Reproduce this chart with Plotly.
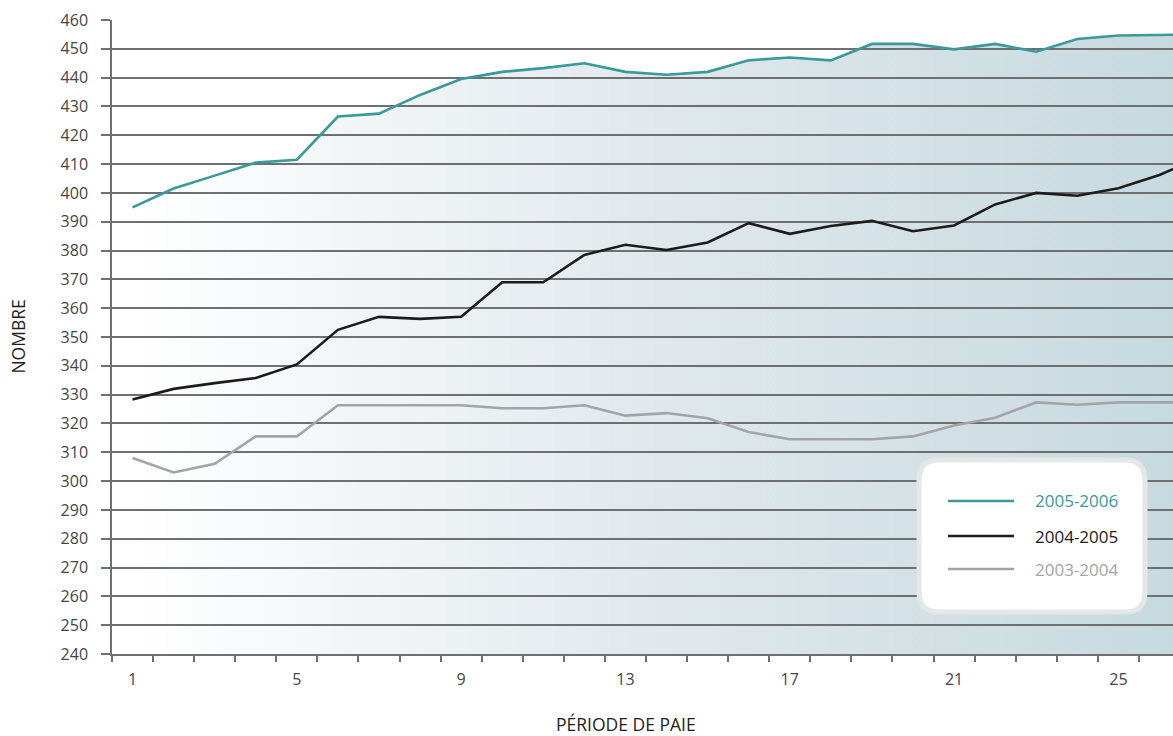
import plotly.graph_objects as go

periods = list(range(1, 28))
serie_2005_2006 = [395, 401.5, 406, 410.5, 411.5, 426.5, 427.5, 434, 439.5, 442, 443.3, 445,
                   442, 441, 442, 446, 447, 446, 451.7, 451.7, 449.8, 451.7, 449, 453.4,
                   454.6, 454.8, 455]
serie_2004_2005 = [328.3, 332, 334, 335.8, 340.5, 352.5, 357, 356.3, 357, 369, 369, 378.5,
                   382, 380.2, 382.8, 389.5, 385.8, 388.5, 390.3, 386.7, 388.7, 396, 400,
                   399, 401.6, 406.2, 412.5]
serie_2003_2004 = [308, 303, 306, 315.5, 315.5, 326.3, 326.3, 326.3, 326.3, 325.3, 325.3, 326.3,
                   322.7, 323.6, 321.8, 317, 314.5, 314.5, 314.5, 315.5, 319.3, 322, 327.3,
                   326.5, 327.3, 327.3, 327.3]
series_names = ["2005-2006", "2004-2005", "2003-2004"]
series_colors = ["#3a9999", "#1c1a1b", "#a3a4a6"]
y_ticks = list(range(240, 461, 10))
x_tick_labels = [1, 5, 9, 13, 17, 21, 25]
x_minor_ticks = [p + 0.5 for p in range(0, 26)]

FONT = "Open Sans"
TXT = "#454547"
GRID = "#6e6f71"

fig = go.Figure()

# gradient fill below the top series (on its own subplot so gridlines sit above)
fig.add_trace(go.Scatter(
    x=periods, y=serie_2005_2006, mode="lines", line=dict(width=0),
    fill="tozeroy",
    fillgradient=dict(type="horizontal",
                      colorscale=[[0, "#ffffff"], [0.5, "#e0e8ec"], [1, "#c5d9df"]]),
    xaxis="x", yaxis="y", hoverinfo="skip", showlegend=False))

all_series = [serie_2005_2006, serie_2004_2005, serie_2003_2004]
for name, vals, col in zip(series_names, all_series, series_colors):
    fig.add_trace(go.Scatter(x=periods, y=vals, mode="lines", name=name,
                             line=dict(color=col, width=2.6),
                             xaxis="x2", yaxis="y2", showlegend=False))

xr = [0.5, 26.33]
yr = [240, 460]

fig.update_layout(
    width=1173, height=736,
    margin=dict(l=112, r=0, t=20, b=82),
    paper_bgcolor="white", plot_bgcolor="rgba(0,0,0,0)",
    font=dict(family=FONT, size=16, color=TXT),
    xaxis=dict(range=xr, domain=[0, 1], visible=False, fixedrange=True),
    yaxis=dict(range=yr, domain=[0, 1], visible=False, fixedrange=True),
    xaxis2=dict(range=xr, domain=[0, 1], anchor="y2",
                tickmode="array", tickvals=x_tick_labels,
                ticktext=[str(v) for v in x_tick_labels],
                ticks="", showgrid=False, zeroline=False,
                showline=True, linecolor=GRID, linewidth=1.5,
                ticklabelstandoff=10,
                minor=dict(tickmode="array", tickvals=x_minor_ticks, ticks="outside",
                           ticklen=6, tickcolor=GRID, tickwidth=1.5, showgrid=False),
                tickfont=dict(size=16, color=TXT)),
    yaxis2=dict(range=yr, domain=[0, 1], anchor="x2",
                tickmode="array", tickvals=y_ticks,
                ticks="outside", ticklen=9, tickcolor=GRID, tickwidth=1.5,
                showgrid=True, gridcolor=GRID, gridwidth=1.5, zeroline=False,
                showline=True, linecolor=GRID, linewidth=1.5,
                ticklabelstandoff=10,
                tickfont=dict(size=16, color=TXT)),
    showlegend=False,
)

# axis titles
fig.add_annotation(text="NOMBRE", xref="paper", yref="paper", x=-0.089, y=0.5,
                   textangle=-90, showarrow=False, font=dict(size=17.5, color="#231f20"),
                   xanchor="center", yanchor="middle")
fig.add_annotation(text="PÉRIODE DE PAIE", xref="paper", yref="paper", x=0.484, y=-0.111,
                   showarrow=False, font=dict(size=17.5, color="#231f20"),
                   xanchor="center", yanchor="middle")

# custom rounded legend box (pixel -> paper conversion)
PW, PH, L, T = 1061, 634, 112, 20
def px(xp):
    return (xp - L) / PW
def py(yp):
    return 1 - (yp - T) / PH

x0, x1, y0, y1, r = px(919), px(1145), py(460), py(612), 20
rx, ry = r / PW, r / PH
path = (f"M {x0+rx},{y0} L {x1-rx},{y0} Q {x1},{y0} {x1},{y0-ry} "
        f"L {x1},{y1+ry} Q {x1},{y1} {x1-rx},{y1} L {x0+rx},{y1} Q {x0},{y1} {x0},{y1+ry} "
        f"L {x0},{y0-ry} Q {x0},{y0} {x0+rx},{y0} Z")
fig.add_shape(type="path", path=path, xref="paper", yref="paper",
              fillcolor="white", line=dict(color="#e5e6e7", width=5), layer="above")

legend_y = [501, 536, 569]
for name, col, ly in zip(series_names, series_colors, legend_y):
    fig.add_shape(type="line", xref="paper", yref="paper",
                  x0=px(948), x1=px(1014), y0=py(ly), y1=py(ly),
                  line=dict(color=col, width=2.6), layer="above")
    fig.add_annotation(text=name, xref="paper", yref="paper", x=px(1033), y=py(ly),
                       xanchor="left", yanchor="middle", showarrow=False,
                       font=dict(size=17, color=col))

fig.write_html("out.html",
               config={"displayModeBar": False},
               post_script="document.body.style.margin='0';"
                           "document.body.style.overflow='hidden';")
